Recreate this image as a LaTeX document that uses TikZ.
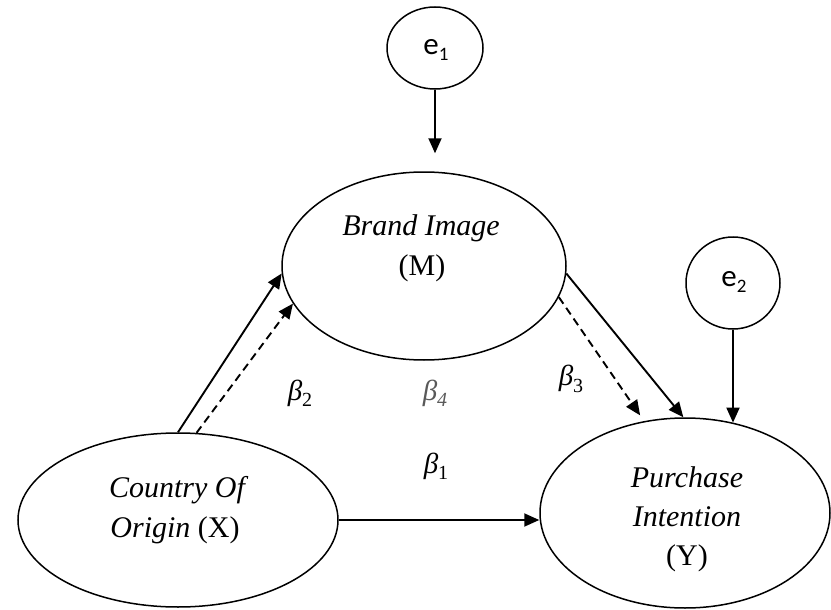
\documentclass[tikz,border=0pt]{standalone}
\usepackage{fontspec}
\setmainfont{Liberation Serif}[ItalicFont={Liberation Serif Italic},BoldFont={Liberation Serif Bold}]
\newfontfamily\carl{Carlito}
\usetikzlibrary{shapes.geometric,arrows.meta}
\newcommand{\bsub}[1]{{\itshape β}\raisebox{-0.22em}{\fontsize{20}{20}\selectfont #1}}
\begin{document}
\begin{tikzpicture}[x=1pt,y=-1pt,
  lat/.style={draw, ellipse, line width=1.5pt, inner sep=0pt},
  txt/.style={font=\fontsize{30}{36}\selectfont, inner sep=0pt},
  etxt/.style={font=\carl\fontsize{31}{36}\selectfont, inner sep=0pt},
  blab/.style={font=\fontsize{29}{34}\selectfont, inner sep=0pt},
  arr/.style={line width=1.9pt, -{Triangle[length=15pt,width=13pt]}},
  darr/.style={arr, dash pattern=on 8pt off 5pt}]
\useasboundingbox (0,0) rectangle (831,610);
% latent nodes
\node[lat, minimum width=96pt, minimum height=82pt] (e1) at (435,48) {};
\node[lat, minimum width=94pt, minimum height=92pt] (e2) at (733,283) {};
\node[lat, minimum width=284pt, minimum height=188pt] (M) at (424,266) {};
\node[lat, minimum width=320pt, minimum height=174pt] (X) at (178,520) {};
\node[lat, minimum width=290pt, minimum height=190pt] (Y) at (685,513) {};
% texts
\node[etxt] (t1) at (436,50) {e\raisebox{-0.22em}{\fontsize{19}{20}\selectfont 1}};
\node[etxt] (t2) at (734,282) {e\raisebox{-0.22em}{\fontsize{19}{20}\selectfont 2}};
\node[txt] (m1) at (421,228) {\itshape Brand Image};
\node[txt] (m2) at (422,268) {(M)};
\node[txt] (x1) at (177,490) {\itshape Country Of};
\node[txt] (x2) at (175,530) {\itshape Origin\/ \upshape(X)};
\node[txt] (y1) at (687,477) {\itshape Purchase};
\node[txt] (y2) at (687,517) {\itshape Intention};
\node[txt] (y3) at (687,558) {(Y)};
% beta labels
\node[blab] (b1) at (436,466) {\bsub{1}};
\node[blab] (b2) at (300,393) {\bsub{2}};
\node[blab] (b3) at (571,379) {\bsub{3}};
\node[blab, text=black!65] (b4) at (435,393) {\bsub{\itshape 4}};
% connectors
\draw[arr, shorten >=18pt] (e1.south) -- (e1.south |- M.north);
\draw[arr] (e2.south) -- (e2.south |- Y.62);
\draw[arr] (X.90) -- (M.183);
\draw[darr] (X.78) -- (M.196);
\draw[arr] (M.357) -- (Y.91);
\draw[darr, shorten >=7pt] (M.347) -- (Y.114);
\draw[arr] (X.east) -- (Y.west |- X.east);
\end{tikzpicture}
\end{document}
